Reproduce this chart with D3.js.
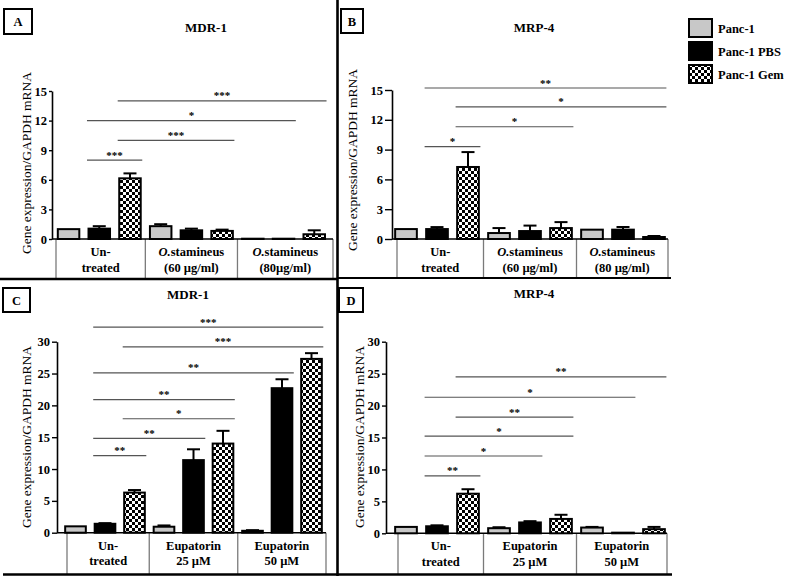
<!DOCTYPE html>
<html><head><meta charset="utf-8">
<script src="https://cdn.jsdelivr.net/npm/d3@7"></script>
<style>
body{margin:0;background:#fff}
svg{display:block}
text{font-family:"Liberation Serif","Times New Roman",serif;fill:#000}
</style>
</head><body>
<svg id="chart" width="791" height="581"></svg>
<script>
// ---------- data ----------
const seriesNames = ["Panc-1", "Panc-1 PBS", "Panc-1 Gem"];
const groupsA = [["Un-", "treated"], ["O.|stamineus", "(60 µg/ml)"], ["O.|stamineus", "(80µg/ml)"]];
const groupsB = [["Un-", "treated"], ["O.|stamineus", "(60 µg/ml)"], ["O.|stamineus", "(80 µg/ml)"]];
const groupsCD = [["Un-", "treated"], ["Eupatorin", "25 µM"], ["Eupatorin", "50 µM"]];
const ticksAB = [0, 3, 6, 9, 12, 15];
const ticksCD = [0, 5, 10, 15, 20, 25, 30];

// bar order: group1 (Panc-1, PBS, Gem), group2 (...), group3 (...)
const meanA = [1.0, 1.05, 6.15, 1.3, 0.88, 0.82, 0.03, 0.03, 0.48];
const errA  = [0, 0.25, 0.5, 0.2, 0.17, 0.13, 0, 0, 0.4];
const meanB = [1.0, 1.0, 7.25, 0.6, 0.8, 1.1, 0.94, 0.94, 0.2];
const errB  = [0, 0.2, 1.5, 0.5, 0.55, 0.6, 0, 0.27, 0.1];
const meanC = [1.0, 1.4, 6.3, 0.94, 11.4, 14.0, 0.3, 22.7, 27.3];
const errC  = [0, 0.1, 0.4, 0.2, 1.7, 2.0, 0.1, 1.4, 0.9];
const meanD = [1.0, 1.1, 6.2, 0.8, 1.7, 2.25, 0.9, 0.1, 0.65];
const errD  = [0, 0.15, 0.7, 0.15, 0.2, 0.65, 0.1, 0, 0.35];

// significance comparisons: [fromBar, toBar, bracket level, label]
const sigA = [[1, 2, 8, "***"], [2, 5, 10, "***"], [1, 7, 12, "*"], [2, 8, 14, "***"]];
const sigB = [[1, 2, 9.3, "*"], [2, 5, 11.3, "*"], [2, 8, 13.3, "*"], [1, 8, 15.2, "**"]];
const sigC = [[1, 2, 12.1, "**"], [1, 4, 14.8, "**"], [2, 5, 17.9, "*"], [1, 5, 20.9, "**"],
              [1, 7, 25.1, "**"], [2, 8, 29.2, "***"], [1, 8, 32.3, "***"]];
const sigD = [[1, 2, 9.0, "**"], [1, 4, 12.1, "*"], [1, 5, 15.2, "*"], [2, 5, 18.2, "**"],
              [1, 7, 21.3, "*"], [2, 8, 24.5, "**"]];

const titles = ["MDR-1", "MRP-4", "MDR-1", "MRP-4"];
const letters = ["A", "B", "C", "D"];
const yTitle = "Gene expression/GAPDH mRNA";

// ---------- drawing ----------
const svg = d3.select("#chart");
const defs = svg.append("defs");
const pat = defs.append("pattern").attr("id", "checker")
  .attr("width", 6).attr("height", 6).attr("patternUnits", "userSpaceOnUse");
pat.append("rect").attr("width", 6).attr("height", 6).attr("fill", "#fff");
pat.append("rect").attr("width", 3).attr("height", 3).attr("fill", "#000");
pat.append("rect").attr("x", 3).attr("y", 3).attr("width", 3).attr("height", 3).attr("fill", "#000");

const fills = ["#c8c8c8", "#000", "url(#checker)"];

const panels = [
  {letter: 0, title: 0, mean: meanA, err: errA, sig: sigA, groups: groupsA, ticks: ticksAB, yMax: 15,
   axisX: 52, y0: 239, yTop: 91, r0: 53.2, r1: 329.6, tick: 3, tableL: 56, tableR: 333, tableB: 278,
   titleX: 206, titleY: 32, box: [4, 9, 28, 25], yLabX: 31, yLabY: 163},
  {letter: 1, title: 1, mean: meanB, err: errB, sig: sigB, groups: groupsB, ticks: ticksAB, yMax: 15,
   axisX: 392, y0: 239, yTop: 90, r0: 390.5, r1: 669.5, tick: 7, tableL: 397, tableR: 668, tableB: 278,
   titleX: 534, titleY: 32, box: [341, 9, 22, 24], yLabX: 357, yLabY: 160},
  {letter: 2, title: 2, mean: meanC, err: errC, sig: sigC, groups: groupsCD, ticks: ticksCD, yMax: 30,
   axisX: 57, y0: 532.7, yTop: 341.7, r0: 60.75, r1: 326.25, tick: 5, tableL: 67, tableR: 326, tableB: 574,
   titleX: 188, titleY: 299, box: [3, 288, 27, 24], yLabX: 31, yLabY: 437},
  {letter: 3, title: 3, mean: meanD, err: errD, sig: sigD, groups: groupsCD, ticks: ticksCD, yMax: 30,
   axisX: 386, y0: 533.3, yTop: 341.7, r0: 390.5, r1: 669.5, tick: 4, tableL: 398, tableR: 667, tableB: 574,
   titleX: 534, titleY: 298, box: [339, 288, 24, 24], yLabX: 364, yLabY: 437}
];

function drawPanel(cfg) {
  const g = svg.append("g");
  const y = d3.scaleLinear().domain([0, cfg.yMax]).range([cfg.y0, cfg.yTop]);
  const x = d3.scaleBand().domain(d3.range(cfg.mean.length)).range([cfg.r0, cfg.r1])
    .paddingInner(0.3).paddingOuter(0.15);
  const step = x.step();

  // category table
  const bounds = [cfg.tableL, cfg.r0 + 3 * step, cfg.r0 + 6 * step, cfg.tableR];
  bounds.forEach(b => g.append("line").attr("x1", b).attr("x2", b)
    .attr("y1", cfg.y0).attr("y2", cfg.tableB).attr("stroke", "#7a7a7a").attr("stroke-width", 1.3));
  cfg.groups.forEach((lab, k) => {
    const cx = (bounds[k] + bounds[k + 1]) / 2;
    lab.forEach((line, j) => {
      const t = g.append("text").attr("x", cx).attr("y", cfg.y0 + 17 + j * 15.5)
        .attr("text-anchor", "middle").attr("font-size", 12.5).attr("font-weight", "bold");
      if (line.includes("|")) {
        const [a, b] = line.split("|");
        t.append("tspan").attr("font-style", "italic").text(a);
        t.append("tspan").text(b);
      } else t.text(line);
    });
  });

  // x axis baseline
  g.append("line").attr("x1", cfg.axisX).attr("x2", cfg.tableR).attr("y1", cfg.y0).attr("y2", cfg.y0)
    .attr("stroke", "#000").attr("stroke-width", 1.6);

  // y axis
  const ax = g.append("g").attr("transform", `translate(${cfg.axisX},0)`)
    .call(d3.axisLeft(y).tickValues(cfg.ticks).tickSize(cfg.tick).tickSizeOuter(0).tickPadding(2));
  ax.select(".domain").attr("stroke", "#000").attr("stroke-width", 1.6);
  ax.selectAll(".tick line").attr("stroke", "#000").attr("stroke-width", 1.4);
  ax.selectAll(".tick text").attr("font-family", "Liberation Serif, serif")
    .attr("font-size", 12.5).attr("font-weight", "bold").attr("fill", "#000");

  // y title
  g.append("text").attr("transform", `translate(${cfg.yLabX},${cfg.yLabY}) rotate(-90)`)
    .attr("text-anchor", "middle").attr("font-size", 13.5).text(yTitle);

  // bars
  g.selectAll("rect.bar").data(cfg.mean).join("rect").attr("class", "bar")
    .attr("x", (d, i) => x(i)).attr("width", x.bandwidth())
    .attr("y", d => y(d)).attr("height", d => y(0) - y(d))
    .attr("fill", (d, i) => fills[i % 3]).attr("stroke", "#000").attr("stroke-width", 2);

  // error bars (upper only)
  cfg.mean.forEach((m, i) => {
    const e = cfg.err[i];
    if (!e) return;
    const cx = x(i) + x.bandwidth() / 2;
    g.append("line").attr("x1", cx).attr("x2", cx).attr("y1", y(m)).attr("y2", y(m + e))
      .attr("stroke", "#000").attr("stroke-width", 2);
    g.append("line").attr("x1", cx - 6.5).attr("x2", cx + 6.5).attr("y1", y(m + e)).attr("y2", y(m + e))
      .attr("stroke", "#000").attr("stroke-width", 2);
  });

  // significance brackets
  cfg.sig.forEach(([f, t, lvl, lab]) => {
    const x1 = cfg.r0 + (f + 0.1) * step, x2 = cfg.r0 + (t + 0.9) * step;
    g.append("line").attr("x1", x1).attr("x2", x2).attr("y1", y(lvl)).attr("y2", y(lvl))
      .attr("stroke", "#555").attr("stroke-width", 1.2);
    g.append("text").attr("x", (x1 + x2) / 2).attr("y", y(lvl) - 1.5)
      .attr("text-anchor", "middle").attr("font-size", 11).attr("font-weight", "bold").text(lab);
  });

  // title
  g.append("text").attr("x", cfg.titleX).attr("y", cfg.titleY).attr("text-anchor", "middle")
    .attr("font-size", 13).attr("font-weight", "bold").text(titles[cfg.title]);

  // panel letter box
  const [bx, by, bw, bh] = cfg.box;
  g.append("rect").attr("x", bx).attr("y", by).attr("width", bw).attr("height", bh)
    .attr("fill", "#fff").attr("stroke", "#000").attr("stroke-width", 2);
  g.append("text").attr("x", bx + bw / 2).attr("y", by + bh / 2 + 4.5).attr("text-anchor", "middle")
    .attr("font-size", 12.5).attr("font-weight", "bold").text(letters[cfg.letter]);
}

panels.forEach(drawPanel);

// frame lines
const frame = svg.append("g").attr("stroke", "#000");
frame.append("line").attr("x1", 337.5).attr("x2", 337.5).attr("y1", 0).attr("y2", 576).attr("stroke-width", 2.6);
frame.append("line").attr("x1", 0).attr("x2", 338).attr("y1", 279).attr("y2", 279).attr("stroke-width", 2.6);
frame.append("line").attr("x1", 337).attr("x2", 671).attr("y1", 278).attr("y2", 278).attr("stroke-width", 2);
frame.append("line").attr("x1", 3).attr("x2", 672).attr("y1", 574.5).attr("y2", 574.5).attr("stroke-width", 2.6);

// legend
const leg = svg.append("g").attr("transform", "translate(689,19)");
seriesNames.forEach((s, i) => {
  leg.append("rect").attr("x", 0).attr("y", i * 23).attr("width", 23).attr("height", 18)
    .attr("fill", fills[i]).attr("stroke", "#000").attr("stroke-width", 2);
  leg.append("text").attr("x", 29).attr("y", i * 23 + 14).attr("font-size", 12.5)
    .attr("font-weight", "bold").text(s);
});
</script>
</body></html>
